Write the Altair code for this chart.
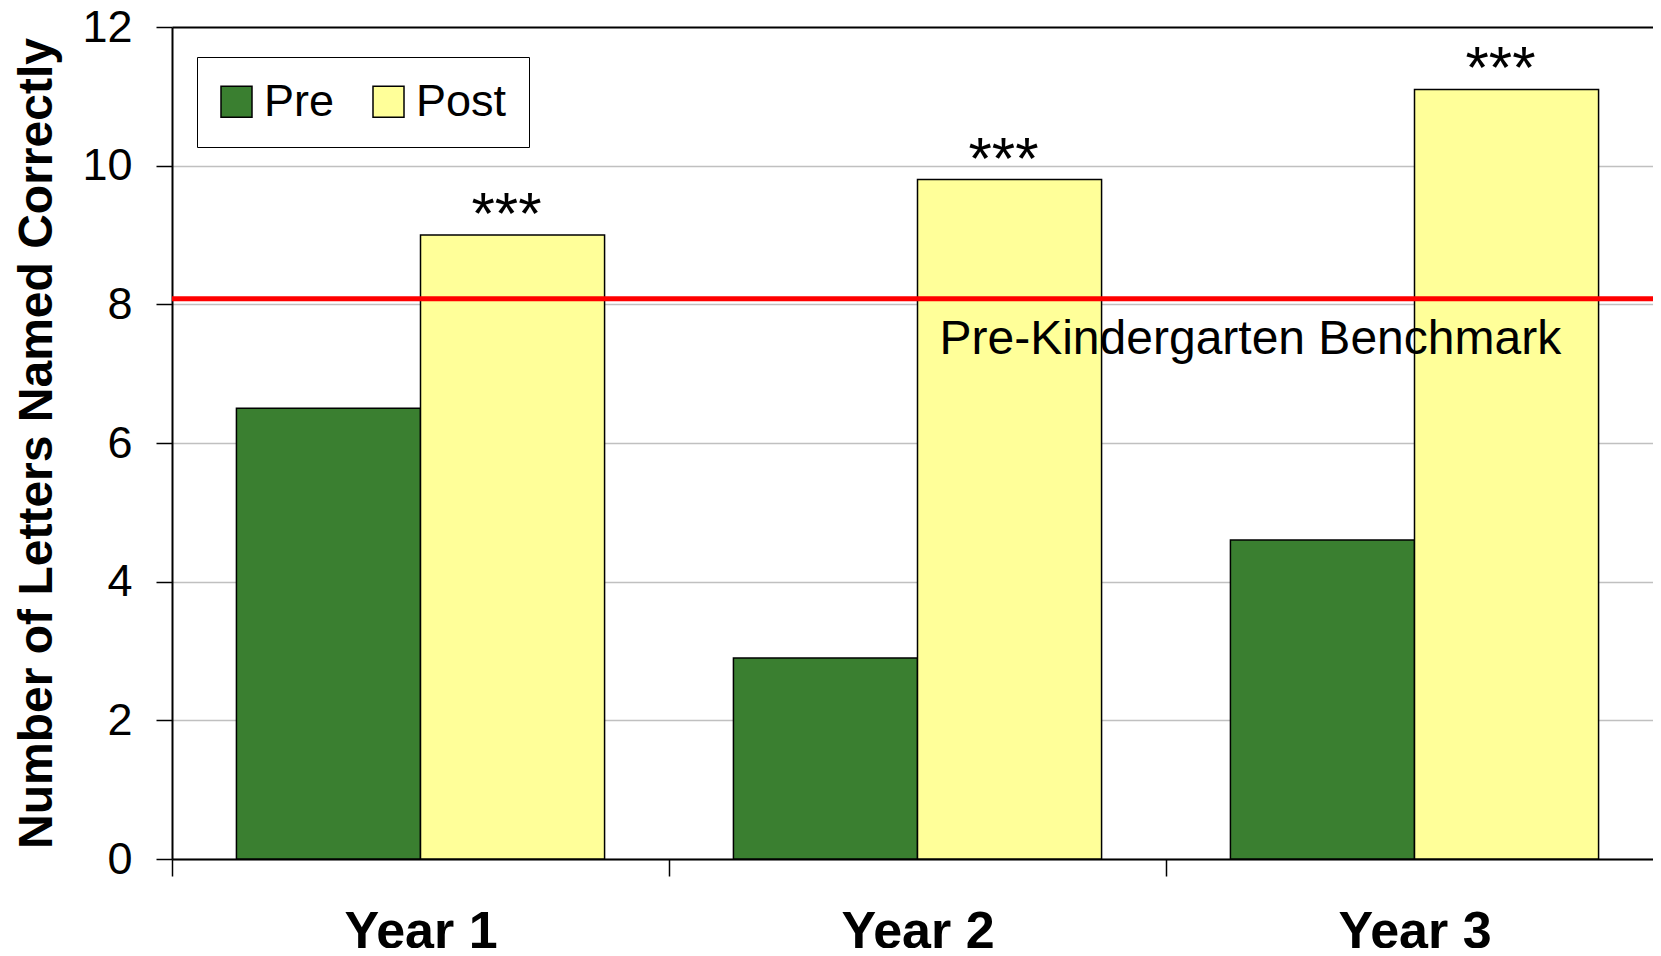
import altair as alt
import pandas as pd

# ---- data ----
years = ["Year 1", "Year 2", "Year 3"]
pre_values = [6.5, 2.9, 4.6]
post_values = [9.0, 9.8, 11.1]
phases = ["Pre", "Post"]
phase_colors = ["#3a7f30", "#ffff99"]
significance = ["***", "***", "***"]
benchmark_value = [8.08]
benchmark_label = ["Pre-Kindergarten Benchmark"]
benchmark_year = ["Year 2"]
y_ticks = [0, 2, 4, 6, 8, 10, 12]
y_title = "Number of Letters Named Correctly"

rows = []
for i, yr in enumerate(years):
    rows.append({"Year": yr, "Phase": phases[0], "Value": pre_values[i]})
    rows.append({"Year": yr, "Phase": phases[1], "Value": post_values[i]})
bars_df = pd.DataFrame(rows)
stars_df = pd.DataFrame({"Year": years, "Phase": [phases[1]] * len(years),
                         "Value": post_values, "Label": significance})
bench_df = pd.DataFrame({"Value": benchmark_value, "Label": benchmark_label,
                         "Year": benchmark_year})

FONT = "Liberation Sans"

x_scale = alt.Scale(domain=years, range=[0, 1491], paddingInner=0, paddingOuter=0)
xo_scale = alt.Scale(domain=phases, paddingInner=0, paddingOuter=0.35)
y_scale = alt.Scale(domain=[0, 12], nice=False, zero=True)

x_axis = alt.Axis(
    title=None, labelFont=FONT, labelFontSize=52, labelFontWeight="bold",
    labelColor="black", labelBaseline="alphabetic", labelPadding=71,
    labelAngle=0, tickBand="extent", tickSize=17, tickColor="black",
    tickWidth=1.5, domainColor="black", domainWidth=2, grid=False,
)
y_axis = alt.Axis(
    values=y_ticks, format="d", title=y_title, titleFont=FONT, titleFontSize=48,
    titleFontWeight="bold", titleColor="black", titlePadding=20,
    labelFont=FONT, labelFontSize=45, labelColor="black", labelPadding=24,
    labelFlush=False, tickSize=16, tickColor="black", tickWidth=1.5,
    domainColor="black", domainWidth=2, grid=True,
    gridColor={"condition": {"test": "datum.value === 12", "value": "black"}, "value": "#c0c0c0"},
    gridWidth={"condition": {"test": "datum.value === 12", "value": 2}, "value": 1.5},
)

bars = alt.Chart(bars_df).mark_bar(stroke="black", strokeWidth=1.5, opacity=1).encode(
    x=alt.X("Year:N", scale=x_scale, axis=x_axis, sort=years),
    xOffset=alt.XOffset("Phase:N", scale=xo_scale, sort=phases),
    y=alt.Y("Value:Q", scale=y_scale, axis=y_axis),
    color=alt.Color(
        "Phase:N", sort=phases,
        scale=alt.Scale(domain=phases, range=phase_colors),
        legend=alt.Legend(
            title=None, orient="none", legendX=25, legendY=30,
            direction="horizontal", fillColor="white", strokeColor="black",
            padding=22, symbolType="square", symbolSize=961, symbolOffset=-5,
            symbolStrokeColor="black", symbolStrokeWidth=1.5, symbolOpacity=1,
            labelFont=FONT, labelFontSize=45, labelColor="black",
            labelOffset=5, columnPadding=35,
        ),
    ),
)

rule = alt.Chart(bench_df).mark_rule(color="#ff0000", strokeWidth=5).encode(
    y=alt.Y("Value:Q", scale=y_scale)
)

bench_text = alt.Chart(bench_df).mark_text(
    align="left", baseline="alphabetic", dx=22, dy=55, fontSize=48,
    font=FONT, color="black",
).encode(
    x=alt.X("Year:N", scale=x_scale, sort=years),
    y=alt.Y("Value:Q", scale=y_scale),
    text="Label:N",
)

stars = alt.Chart(stars_df).mark_text(
    font=FONT, fontSize=60, baseline="alphabetic", dy=-1, dx=-6,
    color="black",
).encode(
    x=alt.X("Year:N", scale=x_scale, sort=years),
    xOffset=alt.XOffset("Phase:N", scale=xo_scale, sort=phases),
    y=alt.Y("Value:Q", scale=y_scale),
    text="Label:N",
)

chart = alt.layer(bars, rule, bench_text, stars).properties(
    width=1481, height=832,
    autosize=alt.AutoSizeParams(type="none"),
    padding={"left": 164, "top": 19, "right": 0, "bottom": 89},
    background="white",
).configure_view(stroke=None)

chart.save("out.html", embed_options={"renderer": "svg", "actions": False})
